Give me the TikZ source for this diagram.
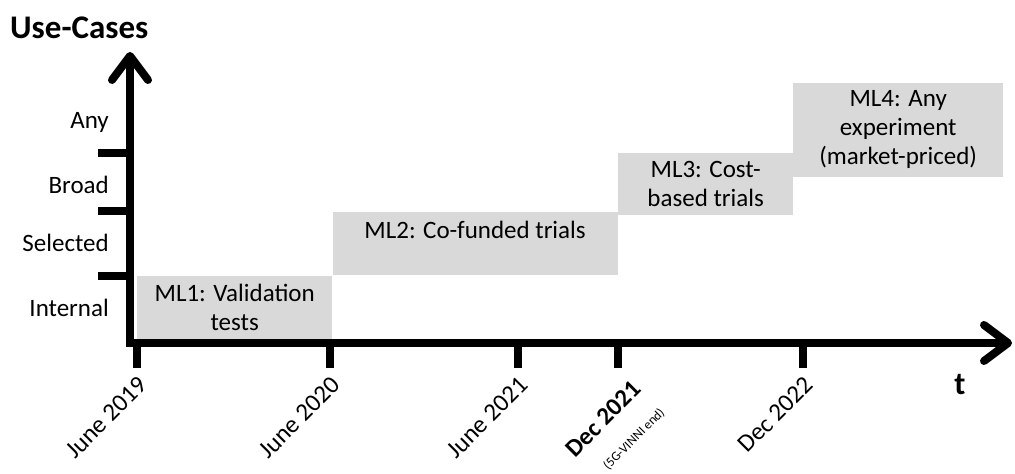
\documentclass[tikz,border=0pt]{standalone}
\usepackage{fontspec}
\setmainfont{Carlito}
\usetikzlibrary{arrows.meta}
\definecolor{boxgray}{HTML}{D9D9D9}
\begin{document}
\begin{tikzpicture}
      [x=1pt, y=1pt,
      axis/.style={line width=8pt,
        {Straight Barb[length=24pt,width=36pt,round]}-{Straight Barb[length=24pt,width=36pt,round]}},
      tickmark/.style={line width=8pt},
      phase/.style={fill=boxgray, inner sep=0pt, align=center, anchor=south west,
        font=\fontsize{25}{29}\selectfont},
      level/.style={anchor=east, inner sep=0pt, font=\fontsize{25}{29}\selectfont},
      date/.style={anchor=east, rotate=45, inner sep=0pt, font=\fontsize{25}{29}\selectfont},
      ]
      \useasboundingbox (0,0) rectangle (1015,474);

      % maturity levels
      \node[phase, minimum width=195pt, minimum height=63pt] (ML1) at (137,135)
        {ML1: Validation\\tests};
      \node[phase, minimum width=285pt, minimum height=63pt] (ML2) at (ML1.north east)
        {ML2: Co-funded trials\\ ~};
      \node[phase, minimum width=175pt, minimum height=62pt] (ML3) at (618,259)
        {ML3: Cost-\\based trials};
      \node[phase, minimum width=210pt, minimum height=94pt] (ML4) at (793,297)
        {ML4: Any\\experiment\\(market-priced)};

      % axes
      \coordinate (O) at (130,131);
      \coordinate (ytip) at (130,422);
      \coordinate (xtip) at (1012,131);
      \draw[axis] (ytip) -- (O) -- (xtip);

      \node[anchor=west, inner sep=0pt, font=\bfseries\fontsize{33}{36}\selectfont] (usecases) at (10,446) {Use-Cases};
      \node[font=\bfseries\fontsize{32}{34}\selectfont] (t) at (960,89) {t};

      % use-case levels
      \foreach \y in {321, 263, 198}
        \draw[tickmark] (98,\y) -- (130,\y);
      \node[level] (any) at (109,352) {Any};
      \node[level] (broad) at (109,289) {Broad};
      \node[level] (selected) at (109,231) {Selected};
      \node[level] (internal) at (109,166) {Internal};

      % dates
      \foreach \x in {137, 330, 518, 618, 803}
        \draw[tickmark] (\x,131) -- (\x,106);
      \foreach \x/\d [count=\i] in {137/June 2019, 330/June 2020, 518/June 2021, 803/Dec 2022}
        \node[date] (d\i) at (\x+6,93) {\d};
      \node[date, anchor=north east, align=right] (dec21) at (631,95)
        {\textbf{Dec 2021}\\[3pt]{\fontsize{13}{14}\selectfont(5G-VINNI end)}};
    \end{tikzpicture}
\end{document}
